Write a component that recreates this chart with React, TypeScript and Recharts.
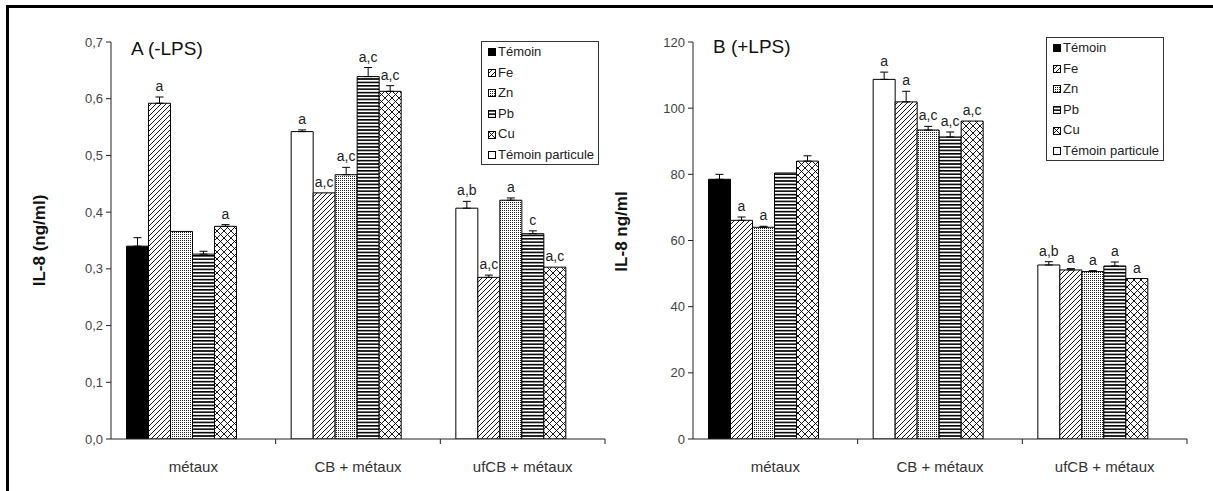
import React from 'react';
import { BarChart, Bar, XAxis, YAxis, ErrorBar, LabelList, Cell, Legend } from 'recharts';

// ---------- data ----------
const categories = ['métaux', 'CB + métaux', 'ufCB + métaux'];
const legendNames = ['Témoin', 'Fe', 'Zn', 'Pb', 'Cu', 'Témoin particule'];

// Panel A (-LPS), IL-8 ng/ml
const temoinA = [0.340, 0.542, 0.407];
const temoinErrA = [0.015, 0.003, 0.012];
const feA = [0.592, 0.434, 0.285];
const feErrA = [0.011, null, 0.004];
const znA = [0.366, 0.466, 0.421];
const znErrA = [null, 0.013, 0.004];
const pbA = [0.326, 0.639, 0.362];
const pbErrA = [0.005, 0.016, 0.005];
const cuA = [0.375, 0.613, 0.303];
const cuErrA = [0.003, 0.010, null];
const particuleA = [null, null, null];
const temoinLblA = ['', 'a', 'a,b'];
const feLblA = ['a', 'a,c', 'a,c'];
const znLblA = ['', 'a,c', 'a'];
const pbLblA = ['', 'a,c', 'c'];
const cuLblA = ['a', 'a,c', 'a,c'];
const ticksA = [0, 0.1, 0.2, 0.3, 0.4, 0.5, 0.6, 0.7];

// Panel B (+LPS), IL-8 ng/ml
const temoinB = [78.5, 108.7, 52.6];
const temoinErrB = [1.5, 2.2, 1.0];
const feB = [66.1, 101.9, 51.1];
const feErrB = [1.0, 3.2, 0.4];
const znB = [64.0, 93.4, 50.6];
const znErrB = [0.3, 1.1, 0.3];
const pbB = [80.4, 91.3, 52.3];
const pbErrB = [null, 1.5, 1.2];
const cuB = [84.0, 96.1, 48.5];
const cuErrB = [1.6, null, null];
const particuleB = [null, null, null];
const temoinLblB = ['', 'a', 'a,b'];
const feLblB = ['a', 'a', 'a'];
const znLblB = ['a', 'a,c', 'a'];
const pbLblB = ['', 'a,c', 'a'];
const cuLblB = ['', 'a,c', 'a'];
const ticksB = [0, 20, 40, 60, 80, 100, 120];

// ---------- styles ----------
const FONT = '"Liberation Sans", Arial, sans-serif';
const TEMOIN_CELL_FILL = ['#000000', '#ffffff', '#ffffff'];
const SERIES_FILL: Record<string, string> = {
  temoin: '#000000',
  fe: 'url(#pFe)',
  zn: 'url(#pZn)',
  pb: 'url(#pPb)',
  cu: 'url(#pCu)',
  particule: '#ffffff',
};
const CHART_H = 491;
const PLOT_TOP = 42;
const PLOT_BOTTOM = 439;
const PLOT_W = 494;
const XAXIS_H = 45;
const YAXIS_W = 50;

type Row = Record<string, any>;

function buildRows(
  vals: Record<string, (number | null)[]>,
  errs: Record<string, (number | null)[]>,
  lbls: Record<string, string[]>
): Row[] {
  return categories.map((cat, i) => {
    const r: Row = { cat };
    Object.keys(vals).forEach((k) => {
      r[k] = vals[k][i];
      r[k + 'Err'] = errs[k] ? errs[k][i] : null;
      r[k + 'Lbl'] = lbls[k] ? lbls[k][i] : '';
    });
    return r;
  });
}

const rowsA = buildRows(
  { temoin: temoinA, fe: feA, zn: znA, pb: pbA, cu: cuA, particule: particuleA },
  { temoin: temoinErrA, fe: feErrA, zn: znErrA, pb: pbErrA, cu: cuErrA },
  { temoin: temoinLblA, fe: feLblA, zn: znLblA, pb: pbLblA, cu: cuLblA }
);
const rowsB = buildRows(
  { temoin: temoinB, fe: feB, zn: znB, pb: pbB, cu: cuB, particule: particuleB },
  { temoin: temoinErrB, fe: feErrB, zn: znErrB, pb: pbErrB, cu: cuErrB },
  { temoin: temoinLblB, fe: feLblB, zn: znLblB, pb: pbLblB, cu: cuLblB }
);

const SERIES_KEYS = ['temoin', 'fe', 'zn', 'pb', 'cu', 'particule'];

// ---------- pieces ----------
const Patterns = () => (
  <svg width={0} height={0} style={{ position: 'absolute' }}>
    <defs>
      <pattern id="pFe" patternUnits="userSpaceOnUse" width="5" height="5">
        <rect width="5" height="5" fill="#fff" />
        <path d="M-1,1 L1,-1 M0,5 L5,0 M4,6 L6,4" stroke="#000" strokeWidth="0.9" />
      </pattern>
      <pattern id="pZn" patternUnits="userSpaceOnUse" width="2" height="2">
        <rect width="2" height="2" fill="#fff" />
        <rect width="1" height="1" fill="#222" />
      </pattern>
      <pattern id="pPb" patternUnits="userSpaceOnUse" width="4" height="3.4">
        <rect width="4" height="3.4" fill="#fff" />
        <rect width="4" height="1.6" fill="#000" />
      </pattern>
      <pattern id="pCu" patternUnits="userSpaceOnUse" width="7" height="7">
        <rect width="7" height="7" fill="#fff" />
        <path d="M0,0 L7,7 M7,0 L0,7" stroke="#000" strokeWidth="0.9" />
      </pattern>
    </defs>
  </svg>
);

const CatTick = (props: any) => {
  const { x, y, payload } = props;
  const half = PLOT_W / 6;
  return (
    <g>
      <line x1={x + half} y1={y} x2={x + half} y2={y + 5} stroke="#222" strokeWidth={1} />
      <text x={x} y={y + 33} textAnchor="middle" fontSize={15} fill="#333" fontFamily={FONT}>
        {payload.value}
      </text>
    </g>
  );
};

const makeYLabel = (text: string, dy: number) => (props: any) => {
  const vb = props.viewBox || {};
  const axisX = vb.x + vb.width;
  const cx = axisX - 72;
  const cy = vb.y + vb.height / 2 + dy;
  return (
    <text
      x={cx}
      y={cy}
      transform={`rotate(-90, ${cx}, ${cy})`}
      textAnchor="middle"
      dominantBaseline="central"
      fontSize={17}
      fontWeight="bold"
      fill="#111"
      fontFamily={FONT}
    >
      {text}
    </text>
  );
};

const makeBarLabel = (rows: Row[], key: string) => (props: any) => {
  const vb = props.viewBox || props;
  const { index, value } = props;
  if (!value) return null;
  const row = rows[index];
  const v = row[key];
  const err = row[key + 'Err'];
  const h = Math.abs(vb.height);
  const top = Math.min(vb.y, vb.y + vb.height);
  const errPx = err && v ? (err * h) / v : 0;
  return (
    <text
      x={vb.x + vb.width / 2}
      y={top - errPx - 6}
      textAnchor="middle"
      fontSize={14}
      fill="#222"
      fontFamily={FONT}
    >
      {value}
    </text>
  );
};

const LegendBox = () => {
  const iconFill = ['#000', 'url(#pFe)', 'url(#pZn)', 'url(#pPb)', 'url(#pCu)', '#fff'];
  return (
    <div
      style={{
        width: 118,
        height: 124,
        border: '1px solid #333',
        background: '#fff',
        boxSizing: 'border-box',
        paddingLeft: 6,
        paddingTop: 0,
        fontFamily: FONT,
        fontSize: 13,
        color: '#222',
        lineHeight: '20.6px',
        textAlign: 'left',
      }}
    >
      {legendNames.map((n, i) => (
        <div key={n} style={{ display: 'flex', alignItems: 'center', height: 20.6, whiteSpace: 'nowrap' }}>
          <svg width={9} height={8} style={{ marginRight: 1, flex: 'none' }}>
            <rect x={0.5} y={0.5} width={7} height={7} fill={iconFill[i]} stroke="#000" strokeWidth={1} />
          </svg>
          <span>{n}</span>
        </div>
      ))}
    </div>
  );
};

type PanelProps = {
  rows: Row[];
  domainMax: number;
  ticks: number[];
  fmt: (v: number) => string;
  ylabel: string;
  ylabelDy: number;
  width: number;
  plotLeft: number;
  legendLeft: number;
  legendTop: number;
};

const Panel = ({ rows, domainMax, ticks, fmt, ylabel, ylabelDy, width, plotLeft, legendLeft, legendTop }: PanelProps) => (
  <BarChart
    width={width}
    height={CHART_H}
    data={rows}
    margin={{
      top: PLOT_TOP,
      right: width - plotLeft - PLOT_W,
      bottom: CHART_H - PLOT_BOTTOM - XAXIS_H,
      left: plotLeft - YAXIS_W,
    }}
    barCategoryGap={15.5}
    barGap={0}
  >
    <XAxis
      dataKey="cat"
      height={XAXIS_H}
      tickSize={0}
      tickMargin={0}
      tickLine={false}
      axisLine={{ stroke: '#222', strokeWidth: 1 }}
      tick={<CatTick />}
      interval={0}
    />
    <YAxis
      width={YAXIS_W}
      domain={[0, domainMax]}
      ticks={ticks}
      allowDataOverflow
      tickFormatter={fmt}
      tickSize={5}
      tickMargin={3}
      axisLine={{ stroke: '#222', strokeWidth: 1 }}
      tickLine={{ stroke: '#222', strokeWidth: 1 }}
      tick={{ fontSize: 13, fill: '#444', fontFamily: FONT }}
      label={makeYLabel(ylabel, ylabelDy)}
    />
    <Legend
      layout="horizontal"
      verticalAlign="middle"
      align="center"
      content={() => <LegendBox />}
      wrapperStyle={{ left: legendLeft, top: legendTop, width: 118, height: 124 }}
    />
    {SERIES_KEYS.map((k) => (
      <Bar
        key={k}
        dataKey={k}
        fill={SERIES_FILL[k]}
        stroke="#000"
        strokeWidth={1}
        isAnimationActive={false}
      >
        {k === 'temoin' && rows.map((_, i) => <Cell key={i} fill={TEMOIN_CELL_FILL[i]} />)}
        {k !== 'particule' && (
          <ErrorBar
            dataKey={(d: Row) => (d[k + 'Err'] != null ? [0, d[k + 'Err']] : null)}
            width={4}
            stroke="#000"
            strokeWidth={1}
            direction="y"
          />
        )}
        {k !== 'particule' && <LabelList dataKey={k + 'Lbl'} content={makeBarLabel(rows, k)} />}
      </Bar>
    ))}
  </BarChart>
);

const fmtA = (v: number) => v.toFixed(1).replace('.', ',');
const fmtB = (v: number) => String(v);

const RIGHT_X = 560;

export default function App() {
  return (
    <div
      style={{
        position: 'fixed',
        left: 0,
        top: 0,
        width: 1213,
        height: 491,
        background: '#fff',
        overflow: 'hidden',
        fontFamily: FONT,
      }}
    >
      <Patterns />
      <div style={{ position: 'absolute', left: 6, top: 5, width: 1300, height: 3, background: '#000' }} />
      <div style={{ position: 'absolute', left: 6, top: 5, width: 3, height: 600, background: '#000' }} />
      <div style={{ position: 'absolute', left: 0, top: 0 }}>
        <Panel
          rows={rowsA}
          domainMax={0.7}
          ticks={ticksA}
          fmt={fmtA}
          ylabel="IL-8 (ng/ml)"
          ylabelDy={0}
          width={620}
          plotLeft={111}
          legendLeft={481}
          legendTop={41}
        />
      </div>
      <div style={{ position: 'absolute', left: RIGHT_X, top: 0 }}>
        <Panel
          rows={rowsB}
          domainMax={120}
          ticks={ticksB}
          fmt={fmtB}
          ylabel="IL-8 ng/ml"
          ylabelDy={-9}
          width={1213 - RIGHT_X}
          plotLeft={693 - RIGHT_X}
          legendLeft={1046 - RIGHT_X}
          legendTop={37}
        />
      </div>
      <div style={{ position: 'absolute', left: 131, top: 37, fontSize: 19, lineHeight: '24px', color: '#111' }}>A (-LPS)</div>
      <div style={{ position: 'absolute', left: 713, top: 35, fontSize: 19, lineHeight: '24px', color: '#111' }}>B (+LPS)</div>
    </div>
  );
}
